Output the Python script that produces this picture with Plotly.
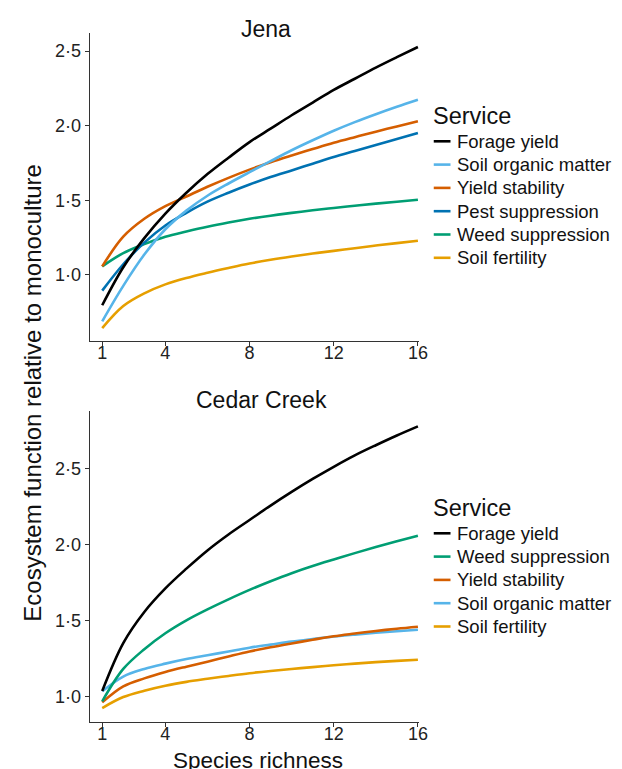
import plotly.graph_objects as go

# ---------------- data ----------------
richness = [1, 2, 3, 4, 5, 6, 7, 8, 9, 10, 11, 12, 13, 14, 15, 16]

jena_forage_yield = [0.795, 1.05, 1.245, 1.41, 1.55, 1.675, 1.785, 1.89, 1.98, 2.07, 2.155, 2.24, 2.315, 2.39, 2.46, 2.528]
jena_soil_organic_matter = [0.687, 0.925, 1.135, 1.305, 1.43, 1.53, 1.612, 1.688, 1.762, 1.835, 1.902, 1.966, 2.024, 2.077, 2.127, 2.174]
jena_yield_stability = [1.056, 1.255, 1.375, 1.46, 1.525, 1.59, 1.65, 1.705, 1.755, 1.80, 1.843, 1.885, 1.923, 1.96, 1.995, 2.03]
jena_pest_suppression = [0.893, 1.07, 1.215, 1.33, 1.415, 1.49, 1.55, 1.605, 1.655, 1.70, 1.745, 1.79, 1.83, 1.87, 1.91, 1.951]
jena_weed_suppression = [1.056, 1.145, 1.205, 1.255, 1.29, 1.322, 1.35, 1.375, 1.396, 1.415, 1.432, 1.448, 1.463, 1.477, 1.49, 1.503]
jena_soil_fertility = [0.642, 0.79, 0.875, 0.935, 0.978, 1.013, 1.045, 1.075, 1.10, 1.122, 1.142, 1.16, 1.178, 1.196, 1.212, 1.228]

cc_forage_yield = [1.035, 1.35, 1.555, 1.71, 1.84, 1.96, 2.065, 2.16, 2.255, 2.345, 2.43, 2.51, 2.585, 2.652, 2.716, 2.776]
cc_weed_suppression = [0.967, 1.18, 1.31, 1.415, 1.50, 1.572, 1.638, 1.70, 1.757, 1.81, 1.857, 1.90, 1.942, 1.982, 2.02, 2.057]
cc_yield_stability = [0.96, 1.065, 1.118, 1.16, 1.195, 1.228, 1.262, 1.295, 1.323, 1.348, 1.372, 1.395, 1.413, 1.43, 1.445, 1.458]
cc_soil_organic_matter = [1.033, 1.13, 1.18, 1.215, 1.245, 1.27, 1.295, 1.32, 1.34, 1.36, 1.377, 1.393, 1.406, 1.418, 1.428, 1.438]
cc_soil_fertility = [0.923, 0.995, 1.037, 1.07, 1.095, 1.115, 1.134, 1.152, 1.167, 1.18, 1.192, 1.204, 1.215, 1.225, 1.233, 1.241]

x_ticks = [1, 4, 8, 12, 16]
y_ticks = [1.0, 1.5, 2.0, 2.5]
y_tick_labels = ["1·0", "1·5", "2·0", "2·5"]

jena_series = [
    ("Forage yield", jena_forage_yield, "#000000"),
    ("Soil organic matter", jena_soil_organic_matter, "#56B4E9"),
    ("Yield stability", jena_yield_stability, "#D55E00"),
    ("Pest suppression", jena_pest_suppression, "#0072B2"),
    ("Weed suppression", jena_weed_suppression, "#009E73"),
    ("Soil fertility", jena_soil_fertility, "#E69F00"),
]
cc_series = [
    ("Forage yield", cc_forage_yield, "#000000"),
    ("Weed suppression", cc_weed_suppression, "#009E73"),
    ("Yield stability", cc_yield_stability, "#D55E00"),
    ("Soil organic matter", cc_soil_organic_matter, "#56B4E9"),
    ("Soil fertility", cc_soil_fertility, "#E69F00"),
]

# ---------------- layout helpers (pixels -> paper) ----------------
W, H = 622, 769
FONT = "Liberation Sans, Arial, Helvetica, sans-serif"
TXT = "#111111"


def px_x(p):
    return p / W


def px_y(p):
    return 1 - p / H


fig = go.Figure()

for name, vals, col in reversed(jena_series):
    fig.add_trace(go.Scatter(x=richness, y=vals, mode="lines", name=name,
                             line=dict(color=col, width=2.6, shape="spline", smoothing=1),
                             xaxis="x", yaxis="y", showlegend=False))
for name, vals, col in reversed(cc_series):
    fig.add_trace(go.Scatter(x=richness, y=vals, mode="lines", name=name,
                             line=dict(color=col, width=2.6, shape="spline", smoothing=1),
                             xaxis="x2", yaxis="y2", showlegend=False))

axis_common = dict(showline=True, linecolor="#333333", linewidth=1.2,
                   ticks="outside", ticklen=4, tickwidth=1, tickcolor="#333333",
                   showgrid=False, zeroline=False,
                   tickfont=dict(family=FONT, size=18, color="#222222"))
xaxis_extra = dict(ticklabelstandoff=-9)

x_dom = [px_x(83), px_x(417)]
fig.update_layout(
    width=W, height=H,
    margin=dict(l=0, r=0, t=0, b=0),
    paper_bgcolor="white", plot_bgcolor="white",
    font=dict(family=FONT, color=TXT),
    showlegend=False,
    xaxis=dict(domain=x_dom, range=[0.41, 16.05], tickvals=x_ticks,
               anchor="y", **axis_common, **xaxis_extra),
    yaxis=dict(domain=[px_y(333), px_y(25)], range=[0.555, 2.622],
               tickvals=y_ticks, ticktext=y_tick_labels, anchor="x", **axis_common),
    xaxis2=dict(domain=x_dom, range=[0.41, 16.05], tickvals=x_ticks,
                anchor="y2", **axis_common, **xaxis_extra),
    yaxis2=dict(domain=[px_y(714.3), px_y(403)], range=[0.829, 2.877],
                tickvals=y_ticks, ticktext=y_tick_labels, anchor="x2", **axis_common),
)

annotations = [
    dict(text="Jena", x=px_x(262), y=px_y(21), xref="paper", yref="paper",
         xanchor="center", yanchor="middle", showarrow=False,
         font=dict(family=FONT, size=23, color=TXT)),
    dict(text="Cedar Creek", x=px_x(257), y=px_y(392), xref="paper", yref="paper",
         xanchor="center", yanchor="middle", showarrow=False,
         font=dict(family=FONT, size=23, color=TXT)),
    dict(text="Ecosystem function relative to monoculture", x=px_x(24), y=px_y(385),
         xref="paper", yref="paper", xanchor="center", yanchor="middle",
         textangle=-90, showarrow=False,
         font=dict(family=FONT, size=24, color=TXT)),
    dict(text="Species richness", x=px_x(254), y=px_y(752), xref="paper", yref="paper",
         xanchor="center", yanchor="middle", showarrow=False,
         font=dict(family=FONT, size=22.5, color=TXT)),
]
shapes = []

# ---------------- manual legends (ggplot style: short key lines) ----------------
def add_legend(series, title_y, first_y, step=23.3):
    annotations.append(dict(text="Service", x=px_x(429), y=px_y(title_y),
                            xref="paper", yref="paper", xanchor="left", yanchor="middle",
                            showarrow=False, font=dict(family=FONT, size=23.5, color=TXT)))
    for i, (name, _vals, col) in enumerate(series):
        yy = first_y + i * step
        shapes.append(dict(type="line", xref="paper", yref="paper",
                           x0=px_x(432), x1=px_x(449), y0=px_y(yy), y1=px_y(yy),
                           line=dict(color=col, width=2.6)))
        annotations.append(dict(text=name, x=px_x(454), y=px_y(yy),
                                xref="paper", yref="paper", xanchor="left", yanchor="middle",
                                showarrow=False, font=dict(family=FONT, size=18.5, color=TXT)))


add_legend(jena_series, 108, 133.3)
add_legend(cc_series, 500, 525.3)

fig.update_layout(annotations=annotations, shapes=shapes)

fig.write_html("out.html")
